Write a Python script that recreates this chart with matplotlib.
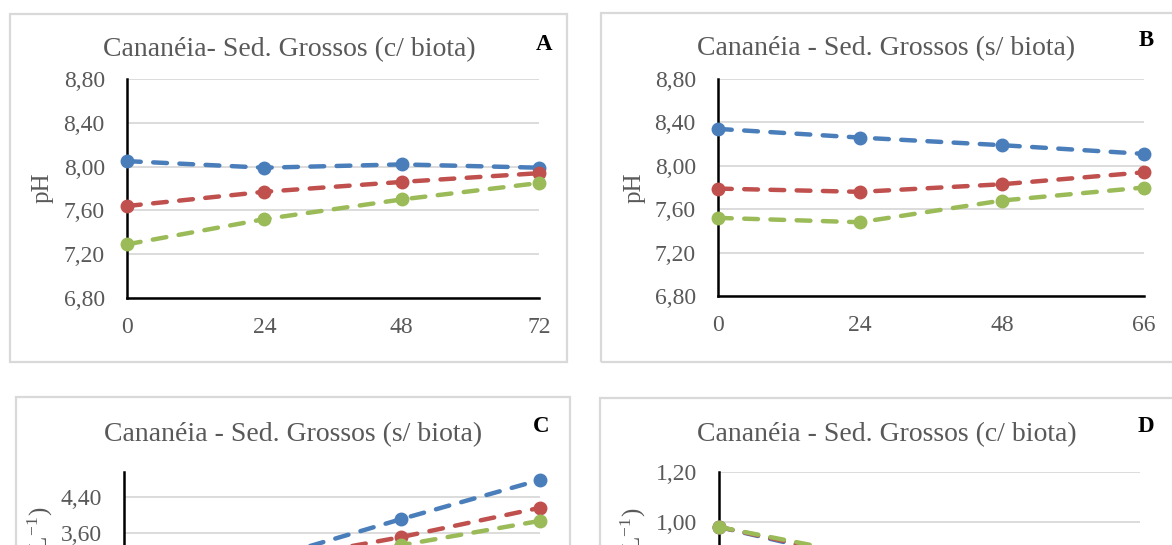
"""pH and concentration time series for the Cananéia coarse-sediment experiments."""

import matplotlib

matplotlib.use("Agg")
import matplotlib.pyplot as plt
from matplotlib.patches import Rectangle
from matplotlib.ticker import FuncFormatter

W, H = 1172, 545

BLUE = "#4a7ebb"
RED = "#c0504d"
GREEN = "#9bbb59"
TEXT = "#595959"
GRID = "#d9d9d9"

# panel A: with biota
hours_a = ["0", "24", "48", "72"]
ph_a_blue = [8.05, 7.99, 8.02, 7.99]
ph_a_red = [7.64, 7.77, 7.86, 7.94]
ph_a_green = [7.29, 7.52, 7.70, 7.85]

# panel B: without biota
hours_b = ["0", "24", "48", "66"]
ph_b_blue = [8.34, 8.26, 8.19, 8.11]
ph_b_red = [7.79, 7.76, 7.83, 7.94]
ph_b_green = [7.52, 7.48, 7.68, 7.80]

# panel C: without biota
hours_c = ["0", "24", "48", "72"]
conc_c_blue = [2.70, 3.00, 3.91, 4.78]
conc_c_red = [2.60, 2.95, 3.51, 4.16]
conc_c_green = [2.50, 2.85, 3.33, 3.87]

# panel D: with biota
hours_d = ["0", "24", "48", "72"]
conc_d_blue = [0.98, 0.85, 0.76, 0.70]
conc_d_red = [0.98, 0.86, 0.78, 0.72]
conc_d_green = [0.98, 0.87, 0.80, 0.74]

plt.rcParams["font.family"] = ["Liberation Serif", "DejaVu Serif"]
plt.rcParams["mathtext.fontset"] = "stix"

fig = plt.figure(figsize=(W / 100, H / 100), dpi=100)


def fx(x):
    return x / W


def fy(y):
    return 1 - y / H


def frame(left, top, right, bottom):
    fig.patches.append(
        Rectangle(
            (fx(left), fy(bottom)),
            fx(right - left),
            (bottom - top) / H,
            transform=fig.transFigure,
            fill=False,
            edgecolor=GRID,
            linewidth=1.6,
        )
    )


def panel(left, top, right, bottom, hours, series, ylim, yticks, title, title_xy,
          letter, letter_xy, ylabel, ylabel_xy, ylabel_va, show_x=True):
    ax = fig.add_axes([fx(left), fy(bottom), fx(right - left), (bottom - top) / H])
    x = range(len(hours))
    for vals, color in series:
        ax.plot(
            x, vals, color=color, linewidth=3.2, linestyle=(0, (3.1, 2.8)),
            dash_capstyle="round", marker="o", markersize=9, clip_on=False, zorder=3,
        )
    ax.set_xlim(0, len(hours) - 1)
    ax.set_ylim(*ylim)
    ax.set_xticks(list(x))
    ax.set_xticklabels(hours)
    ax.set_yticks(yticks)
    ax.yaxis.set_major_formatter(FuncFormatter(lambda v, _: f"{v:.2f}".replace(".", ",")))
    ax.tick_params(length=0, labelsize=17, labelcolor=TEXT)
    ax.tick_params(axis="y", pad=16)
    ax.tick_params(axis="x", pad=14, labelbottom=show_x)
    ax.grid(axis="y", color=GRID, linewidth=1.3)
    ax.set_axisbelow(True)
    for side in ("top", "right"):
        ax.spines[side].set_visible(False)
    for side in ("left", "bottom"):
        ax.spines[side].set_linewidth(1.8)
        ax.spines[side].set_color("black")
    ax.patch.set_alpha(0)

    fig.text(fx(title_xy[0]), fy(title_xy[1]), title, ha="center", va="center", fontsize=20, color=TEXT)
    fig.text(fx(letter_xy[0]), fy(letter_xy[1]), letter, ha="center", va="center",
             fontsize=16.5, fontweight="bold", color="black")
    fig.text(fx(ylabel_xy[0]), fy(ylabel_xy[1]), ylabel, ha="center", va=ylabel_va,
             rotation=90, fontsize=18, color=TEXT)
    return ax


frame(10, 14, 567, 362)
frame(601, 13, 1190, 362)
frame(16, 397, 570, 720)
frame(600, 398, 1190, 720)

ph_ticks = [6.8, 7.2, 7.6, 8.0, 8.4, 8.8]

panel(
    127, 79, 539, 298, hours_a,
    [(ph_a_blue, BLUE), (ph_a_red, RED), (ph_a_green, GREEN)],
    (6.8, 8.8), ph_ticks,
    "Cananéia- Sed. Grossos (c/ biota)", (289, 50), "A", (544, 45),
    "pH", (43, 188), "center",
)

panel(
    718, 79, 1144, 296, hours_b,
    [(ph_b_blue, BLUE), (ph_b_red, RED), (ph_b_green, GREEN)],
    (6.8, 8.8), ph_ticks,
    "Cananéia - Sed. Grossos (s/ biota)", (886, 49), "B", (1146, 40),
    "pH", (635, 188), "center",
)

# lower row runs past the bottom edge; only the upper ticks are labelled
panel(
    124, 472, 540, 677, hours_c,
    [(conc_c_blue, BLUE), (conc_c_red, RED), (conc_c_green, GREEN)],
    (0.4, 4.956), [3.6, 4.4],
    "Cananéia - Sed. Grossos (s/ biota)", (293, 435), "C", (541, 427),
    r"Alcalinidade (mmol L$^{\mathregular{-1}}$)", (40, 506), "top", show_x=False,
)

panel(
    719, 472, 1140, 772, hours_d,
    [(conc_d_blue, BLUE), (conc_d_red, RED), (conc_d_green, GREEN)],
    (0.0, 1.2), [1.0, 1.2],
    "Cananéia - Sed. Grossos (c/ biota)", (887, 435), "D", (1146, 427),
    r"Concentração (mg L$^{\mathregular{-1}}$)", (633, 507), "top", show_x=False,
)

fig.savefig("out.png", dpi=100)
